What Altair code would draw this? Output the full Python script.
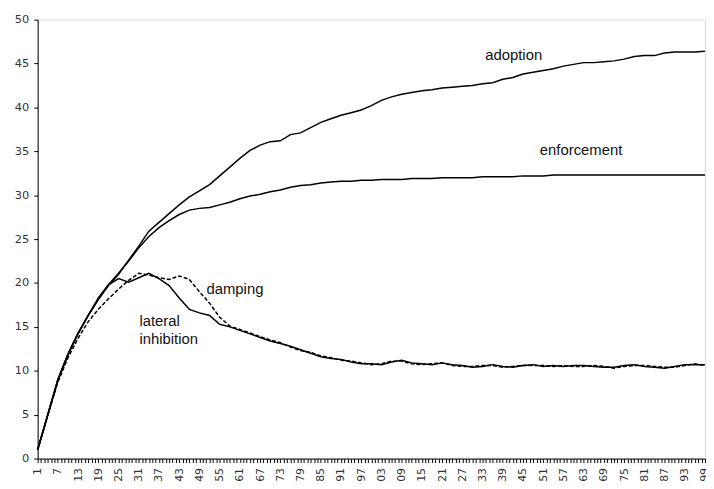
import altair as alt
import pandas as pd

# category index (every 3rd step)
steps = list(range(1, 200, 3))

adoption = [1.0, 5.0, 9.0, 11.9, 14.3, 16.3, 18.1, 19.7, 21.0, 22.6,
            24.2, 25.9, 26.9, 27.9, 28.9, 29.8, 30.5, 31.2, 32.2, 33.2,
            34.2, 35.1, 35.7, 36.1, 36.2, 36.9, 37.1, 37.7, 38.3, 38.7,
            39.1, 39.4, 39.7, 40.2, 40.8, 41.2, 41.5, 41.7, 41.9, 42.0,
            42.2, 42.3, 42.4, 42.5, 42.7, 42.8, 43.2, 43.4, 43.8, 44.0,
            44.2, 44.4, 44.7, 44.9, 45.1, 45.1, 45.2, 45.3, 45.5, 45.8,
            45.9, 45.9, 46.2, 46.3, 46.3, 46.3, 46.4]

enforcement = [1.0, 5.0, 9.0, 11.9, 14.3, 16.3, 18.2, 19.8, 21.1, 22.5,
               24.0, 25.3, 26.3, 27.1, 27.8, 28.3, 28.5, 28.6, 28.9, 29.2,
               29.6, 29.9, 30.1, 30.4, 30.6, 30.9, 31.1, 31.2, 31.4, 31.5,
               31.6, 31.6, 31.7, 31.7, 31.8, 31.8, 31.8, 31.9, 31.9, 31.9,
               32.0, 32.0, 32.0, 32.0, 32.1, 32.1, 32.1, 32.1, 32.2, 32.2,
               32.2, 32.3, 32.3, 32.3, 32.3, 32.3, 32.3, 32.3, 32.3, 32.3,
               32.3, 32.3, 32.3, 32.3, 32.3, 32.3, 32.3]

lateral = [1.0, 5.0, 8.9, 11.8, 14.2, 16.3, 18.3, 19.8, 20.5, 20.1,
           20.6, 21.1, 20.5, 19.7, 18.3, 17.0, 16.6, 16.3, 15.3, 15.0,
           14.6, 14.2, 13.8, 13.4, 13.1, 12.8, 12.4, 12.0, 11.6, 11.4,
           11.3, 11.0, 10.8, 10.8, 10.7, 11.0, 11.2, 10.9, 10.8, 10.7,
           10.9, 10.7, 10.6, 10.4, 10.5, 10.7, 10.5, 10.4, 10.6, 10.7,
           10.5, 10.6, 10.5, 10.6, 10.6, 10.5, 10.4, 10.4, 10.6, 10.7,
           10.5, 10.4, 10.3, 10.5, 10.7, 10.7, 10.7]

damping = [1.0, 4.9, 8.7, 11.5, 13.7, 15.6, 17.0, 18.2, 19.3, 20.3,
           21.1, 20.9, 20.6, 20.4, 20.8, 20.4, 19.0, 17.7, 16.1, 15.1,
           14.7, 14.3, 13.9, 13.5, 13.2, 12.7, 12.3, 12.1, 11.7, 11.5,
           11.2, 11.1, 10.9, 10.7, 10.8, 11.1, 11.1, 10.8, 10.7, 10.8,
           10.9, 10.6, 10.5, 10.5, 10.6, 10.6, 10.4, 10.5, 10.6, 10.6,
           10.6, 10.5, 10.6, 10.5, 10.5, 10.6, 10.5, 10.3, 10.5, 10.6,
           10.6, 10.5, 10.4, 10.4, 10.6, 10.8, 10.6]

categories = list(range(1, 200))
y_ticks = [0, 5, 10, 15, 20, 25, 30, 35, 40, 45, 50]

label_text = ["adoption", "enforcement", "damping", "lateral", "inhibition"]
label_x = [133.8, 150.0, 51.1, 31.2, 31.2]
label_y = [46.0, 35.1, 19.3, 15.7, 13.6]

solid_rows = []
for name, vals in [("adoption", adoption), ("enforcement", enforcement),
                   ("lateral inhibition", lateral)]:
    for s, v in zip(steps, vals):
        solid_rows.append({"step": s, "value": v, "series": name})
solid_df = pd.DataFrame(solid_rows)
dash_df = pd.DataFrame({"step": steps, "value": damping, "series": "damping"})
text_df = pd.DataFrame({"label": label_text, "step": label_x, "value": label_y})

label_expr = ("(datum.value - 1) % 6 == 0 ? (datum.value >= 100 ? "
              "substring(toString(datum.value), 1, 3) : toString(datum.value)) : ''")

x_scale = alt.Scale(domain=[1, 199], nice=False, zero=False)
y_scale = alt.Scale(domain=[0, 50], nice=False)

x_axis = alt.Axis(values=categories, tickCount=400, tickSize=4, labelExpr=label_expr,
                  labelAngle=270, labelAlign="right", labelBaseline="middle",
                  labelOverlap=False, labelPadding=5, grid=False,
                  domainColor="black", tickColor="black", title=None,
                  labelFont="DejaVu Sans", labelFontSize=11, labelColor="#333333",
                  labelFlush=False, labelBound=False)
y_axis = alt.Axis(values=y_ticks, tickCount=20, tickSize=4, labelPadding=5, grid=False,
                  domainColor="black", tickColor="black", title=None,
                  labelFont="DejaVu Sans", labelFontSize=11.5, labelColor="#333333")

x_enc = alt.X("step:Q", scale=x_scale, axis=x_axis)
y_enc = alt.Y("value:Q", scale=y_scale, axis=y_axis)

solid = alt.Chart(solid_df).mark_line(color="black", strokeWidth=1.5).encode(
    x=x_enc, y=y_enc, detail="series:N")
dashed = alt.Chart(dash_df).mark_line(color="black", strokeWidth=1.5,
                                      strokeDash=[4, 2]).encode(
    x=alt.X("step:Q", scale=x_scale), y=alt.Y("value:Q", scale=y_scale))
texts = alt.Chart(text_df).mark_text(align="left", baseline="middle",
                                     font="Liberation Sans", fontSize=15,
                                     color="#111111").encode(
    x=alt.X("step:Q", scale=x_scale), y=alt.Y("value:Q", scale=y_scale),
    text="label:N")

chart = alt.layer(solid, dashed, texts).properties(
    width=675, height=444,
    autosize=alt.AutoSizeParams(type="none"),
    padding={"left": 30, "top": 9, "right": 1, "bottom": 26},
).configure_view(stroke=None).configure(background="white")

chart.save("out.html", embed_options={"renderer": "svg", "actions": False})
